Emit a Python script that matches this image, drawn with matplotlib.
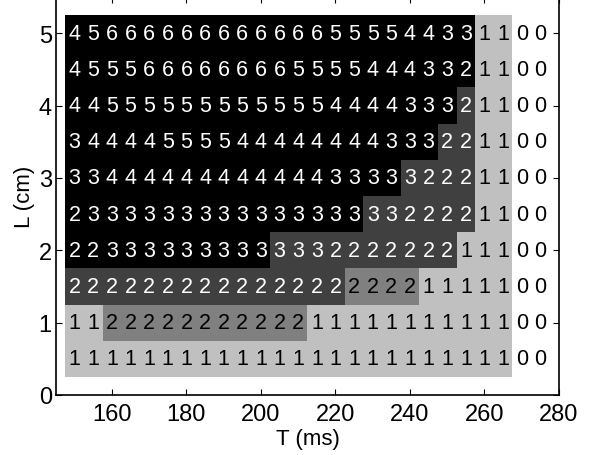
import numpy as np
import matplotlib
matplotlib.use('Agg')
import matplotlib.pyplot as plt
from matplotlib.colors import ListedColormap, BoundaryNorm

plt.rcParams['font.family'] = ['Liberation Sans', 'DejaVu Sans']

# grid: T (ms) columns, L (cm) rows
T_VALS = np.arange(150, 280, 5)          # 26 columns
L_VALS = [5.0, 4.5, 4.0, 3.5, 3.0, 2.5, 2.0, 1.5, 1.0, 0.5]

# value printed in each cell (rows top -> bottom)
COUNTS = [
    "45666666666666555544331100",
    "45556666666655554443321100",
    "44555555555555444433321100",
    "34444555544444444333221100",
    "33444444444444333332221100",
    "23333333333333333322221100",
    "22333333333333222222211100",
    "22222222222222222221111100",
    "11222222222221111111111100",
    "11111111111111111111111100",
]

# background shade class per cell: 4 black, 3 dark, 2 mid, 1 light, 0 white
SHADE = [
    "44444444444444444444441100",
    "44444444444444444444441100",
    "44444444444444444444431100",
    "44444444444444444444331100",
    "44444444444444444433331100",
    "44444444444444443333331100",
    "44444444444333333333311100",
    "33333333333333322221111100",
    "11222222222221111111111100",
    "11111111111111111111111100",
]

SHADE_COLORS = ['#ffffff', '#c0c0c0', '#808080', '#404040', '#000000']
TEXT_COLORS = ['black', 'black', 'black', 'white', 'white']

counts = np.array([[int(c) for c in row] for row in COUNTS])
shade = np.array([[int(c) for c in row] for row in SHADE])

fig = plt.figure(figsize=(5.91, 4.56), dpi=100)
ax = fig.add_axes([56 / 591, 1 - 396 / 456, (559 - 56) / 591, 398 / 456])

dx = 5
dy = 0.5
x_edges = np.append(T_VALS - dx / 2, T_VALS[-1] + dx / 2)
L_asc = np.array(L_VALS[::-1])
y_edges = np.append(L_asc - dy / 2, L_asc[-1] + dy / 2)

cmap = ListedColormap(SHADE_COLORS)
norm = BoundaryNorm(np.arange(-0.5, 5.5, 1), cmap.N)
ax.pcolormesh(x_edges, y_edges, shade[::-1], cmap=cmap, norm=norm,
              shading='flat', edgecolors='none')

for i, L in enumerate(L_VALS):
    for j, T in enumerate(T_VALS):
        ax.text(T, L, str(counts[i, j]), ha='center', va='center',
                fontsize=15.5, color=TEXT_COLORS[shade[i, j]])

ax.set_xlim(145, 280)
ax.set_ylim(0, 5.5)
ax.set_xticks(np.arange(160, 281, 20))
ax.set_yticks(np.arange(0, 6, 1))
ax.tick_params(direction='in', top=True, right=True, length=4,
               width=0.8, labelsize=17, colors='black')
ax.tick_params(axis='x', pad=6)
ax.tick_params(axis='y', pad=3)
for s in ax.spines.values():
    s.set_linewidth(1.2)

ax.set_xlabel('T (ms)', fontsize=16, labelpad=2)
ax.set_ylabel('L (cm)', fontsize=16, labelpad=3)

fig.savefig('out.png', dpi=100)
